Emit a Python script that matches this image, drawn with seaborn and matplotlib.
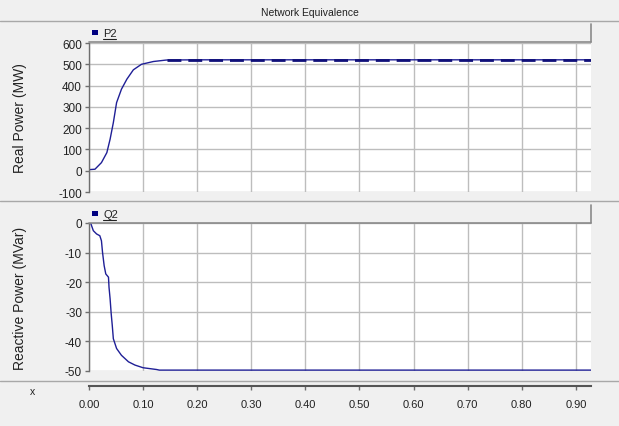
import numpy as np
import pandas as pd
import matplotlib
matplotlib.use("Agg")
import matplotlib.pyplot as plt
from matplotlib.patches import Rectangle
from matplotlib.lines import Line2D
import seaborn as sns

# ---- data ----
t_p = [0.000, 0.011, 0.023, 0.033, 0.039, 0.045, 0.051, 0.060, 0.070, 0.082,
       0.097, 0.119, 0.143, 0.200, 0.400, 0.600, 0.800, 0.928]
p2 = [5, 7, 38, 85, 148, 226, 320, 383, 430, 474,
      500, 513, 520, 521, 521, 521, 521, 521]
t_p_ref = [0.145, 0.928]
p2_ref = [522, 522]

t_q = [0.003, 0.008, 0.014, 0.020, 0.023, 0.025, 0.028, 0.031, 0.036, 0.037,
       0.039, 0.041, 0.043, 0.045, 0.051, 0.060, 0.073, 0.085, 0.100, 0.125,
       0.130, 0.400, 0.928]
q2 = [0.0, -2.6, -3.7, -4.3, -6.0, -9.9, -14.4, -17.2, -18.3, -21.7,
      -25.6, -30.6, -34.6, -39.1, -42.4, -44.7, -46.9, -48.0, -48.9, -49.5,
      -49.7, -49.7, -49.7]

x_ticks = [0.0, 0.1, 0.2, 0.3, 0.4, 0.5, 0.6, 0.7, 0.8, 0.9]
p_ticks = [-100, 0, 100, 200, 300, 400, 500, 600]
q_ticks = [-50, -40, -30, -20, -10, 0]

sns.set_theme(style="whitegrid")
plt.rcParams["font.family"] = ["Liberation Sans", "DejaVu Sans"]

W, H = 619, 427
fig = plt.figure(figsize=(W / 100, H / 100), dpi=100, facecolor="#f0f0f0")

def fx(px):
    return px / W

def fy(py):
    return 1 - py / H

navy = "#1f1f96"
grid_c = "#bdbdbd"
dark = "#6e6e6e"

ax1 = fig.add_axes([fx(89), fy(193), fx(591 - 89), (193 - 44) / H])
ax2 = fig.add_axes([fx(89), fy(372), fx(591 - 89), (372 - 224) / H])

df_p = pd.DataFrame({"t": t_p, "P2": p2})
df_pr = pd.DataFrame({"t": t_p_ref, "P2": p2_ref})
df_q = pd.DataFrame({"t": t_q, "Q2": q2})

sns.lineplot(data=df_p, x="t", y="P2", ax=ax1, color=navy, lw=1.0)
sns.lineplot(data=df_pr, x="t", y="P2", ax=ax1, color="#10107a", lw=2.0,
             dashes=False, linestyle=(0, (5, 2.5)))
sns.lineplot(data=df_q, x="t", y="Q2", ax=ax2, color=navy, lw=1.0)

for ax, ticks, lab in [(ax1, p_ticks, "Real Power (MW)"),
                       (ax2, q_ticks, "Reactive Power (MVar)")]:
    ax.set_facecolor("white")
    ax.set_xlim(0, 0.928)
    ax.set_ylim(ticks[0], ticks[-1])
    ax.set_xticks(x_ticks)
    ax.set_yticks(ticks)
    ax.set_yticklabels([str(v) for v in ticks], fontsize=8.5, color="#222222")
    ax.grid(True, color=grid_c, lw=1.0)
    ax.set_axisbelow(True)
    for s in ["top", "right", "bottom"]:
        ax.spines[s].set_visible(False)
    ax.spines["left"].set_color(dark)
    ax.spines["left"].set_linewidth(1.0)
    ax.tick_params(axis="y", left=True, length=3, width=1, color=dark, pad=2)
    ax.set_ylabel(lab, fontsize=10, color="#222222")
    ax.set_xlabel("")
    ax.yaxis.set_label_coords(-0.124, 0.5)

ax1.tick_params(axis="x", bottom=False, labelbottom=False)
ax2.spines["bottom"].set_visible(True)
ax2.spines["bottom"].set_position(("outward", 11))
ax2.spines["bottom"].set_color("#555555")
ax2.spines["bottom"].set_linewidth(1.5)
ax2.set_xticklabels([f"{v:.2f}" for v in x_ticks], fontsize=8, color="#222222")
ax2.tick_params(axis="x", bottom=True, length=3, width=1, color=dark, pad=6)

# title band and separators
fig.text(fx(310), fy(13), "Network Equivalence", fontsize=7.5, ha="center",
         va="center", color="#222222")
for yy in [22, 202, 382]:
    fig.add_artist(Line2D([0, 1], [fy(yy), fy(yy)], color="#a8a8a8", lw=1.0))

# legend header strips
for top, bot, name in [(25, 43, "P2"), (206, 224, "Q2")]:
    fig.add_artist(Rectangle((fx(89), fy(bot)), fx(591 - 89), (bot - top) / H,
                             facecolor="#f0f0f0", edgecolor="none"))
    fig.add_artist(Line2D([fx(89), fx(591)], [fy(bot), fy(bot)], color="#8a8a8a", lw=1.2))
    fig.add_artist(Line2D([fx(591), fx(591)], [fy(top), fy(bot)], color="#8a8a8a", lw=1.2))
    fig.add_artist(Rectangle((fx(92), fy(top + 11)), fx(6), 5 / H,
                             facecolor="#000080", edgecolor="none"))
    fig.text(fx(103), fy(top + 9), name, fontsize=8, ha="left", va="center",
             color="#222222")
    fig.add_artist(Line2D([fx(103), fx(116)], [fy(top + 15), fy(top + 15)],
                          color="#222222", lw=0.8))

fig.text(fx(33), fy(392), "x", fontsize=7.5, ha="center", va="center", color="#222222")

fig.savefig("out.png", dpi=100, facecolor=fig.get_facecolor())
